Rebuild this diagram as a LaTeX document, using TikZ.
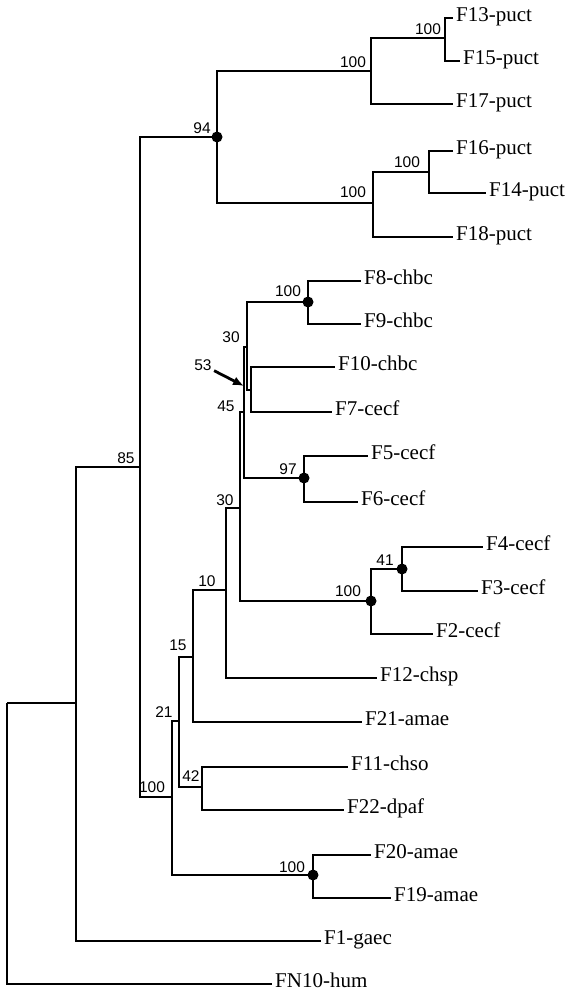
\documentclass[tikz,border=0pt]{standalone}
\usepackage{fontspec}
\setmainfont{Liberation Serif}
\newfontfamily\bsfont{Liberation Sans}
\usepackage{tikz}
\usetikzlibrary{arrows.meta}
\tikzset{
  br/.style={line width=1.5pt, draw=black},
  leaf/.style={anchor=west, inner xsep=3pt, inner ysep=0pt, text height=0.68em, text depth=0pt,
               font=\fontsize{21}{24}\selectfont},
  bs/.style={inner sep=0.5pt, font=\bsfont\fontsize{15.5}{17}\selectfont},
  dot/.style={fill=black},
  ptr/.style={-{Latex[length=11pt, width=9pt]}, line width=2.8pt, shorten <=2pt},
}

\begin{document}
\begin{tikzpicture}[x=1pt, y=-1pt]
  \useasboundingbox (0,0) rectangle (568,999);
  % inner nodes (x of the split, y where the branch comes in)
  \coordinate (nA) at (445,38);    \coordinate (nB) at (371,71);
  \coordinate (nC) at (429,172);   \coordinate (nD) at (373,203);
  \coordinate (n94) at (217,137);  \coordinate (n85) at (140,467);
  \coordinate (nG) at (76,703);    \coordinate (nR) at (7,703);
  \coordinate (n100b) at (308,302); \coordinate (n53) at (251,390);
  \coordinate (n30u) at (247,347); \coordinate (n45) at (244,412);
  \coordinate (n97) at (304,478);  \coordinate (n41) at (402,569);
  \coordinate (n100c) at (371,601); \coordinate (n30l) at (240,508);
  \coordinate (n10) at (226,590);  \coordinate (n15) at (193,657);
  \coordinate (n42) at (202,787);  \coordinate (n21) at (179,721);
  \coordinate (n100d) at (313,875); \coordinate (n100e) at (172,797);

  % leaves
  \node[leaf] (f13) at (453,18)  {F13-puct};
  \node[leaf] (f15) at (460,61)  {F15-puct};
  \node[leaf] (f17) at (453,104) {F17-puct};
  \node[leaf] (f16) at (453,151) {F16-puct};
  \node[leaf] (f14) at (486,193) {F14-puct};
  \node[leaf] (f18) at (453,237) {F18-puct};
  \node[leaf] (f8)  at (361,281) {F8-chbc};
  \node[leaf] (f9)  at (361,324) {F9-chbc};
  \node[leaf] (f10) at (335,367) {F10-chbc};
  \node[leaf] (f7)  at (332,412) {F7-cecf};
  \node[leaf] (f5)  at (368,456) {F5-cecf};
  \node[leaf] (f6)  at (358,502) {F6-cecf};
  \node[leaf] (f4)  at (483,547) {F4-cecf};
  \node[leaf] (f3)  at (478,591) {F3-cecf};
  \node[leaf] (f2)  at (433,634) {F2-cecf};
  \node[leaf] (f12) at (377,678) {F12-chsp};
  \node[leaf] (f21) at (362,722) {F21-amae};
  \node[leaf] (f11) at (348,767) {F11-chso};
  \node[leaf] (f22) at (344,810) {F22-dpaf};
  \node[leaf] (f20) at (371,855) {F20-amae};
  \node[leaf] (f19) at (391,898) {F19-amae};
  \node[leaf] (f1)  at (321,941) {F1-gaec};
  \node[leaf] (fn10) at (272,984) {FN10-hum};

  % branches
  \draw[br] (nA) |- (f13.west);  \draw[br] (nA) |- (f15.west);
  \draw[br] (nB) |- (nA);        \draw[br] (nB) |- (f17.west);
  \draw[br] (nC) |- (f16.west);  \draw[br] (nC) |- (f14.west);
  \draw[br] (nD) |- (nC);        \draw[br] (nD) |- (f18.west);
  \draw[br] (n94) |- (nB);       \draw[br] (n94) |- (nD);
  \draw[br] (n100b) |- (f8.west); \draw[br] (n100b) |- (f9.west);
  \draw[br] (n53) |- (f10.west); \draw[br] (n53) |- (f7.west);
  \draw[br] (n30u) |- (n100b);   \draw[br] (n30u) |- (n53);
  \draw[br] (n97) |- (f5.west);  \draw[br] (n97) |- (f6.west);
  \draw[br] (n45) |- (n30u);     \draw[br] (n45) |- (n97);
  \draw[br] (n41) |- (f4.west);  \draw[br] (n41) |- (f3.west);
  \draw[br] (n100c) |- (n41);    \draw[br] (n100c) |- (f2.west);
  \draw[br] (n30l) |- (n45);     \draw[br] (n30l) |- (n100c);
  \draw[br] (n10) |- (n30l);     \draw[br] (n10) |- (f12.west);
  \draw[br] (n15) |- (n10);      \draw[br] (n15) |- (f21.west);
  \draw[br] (n42) |- (f11.west); \draw[br] (n42) |- (f22.west);
  \draw[br] (n21) |- (n15);      \draw[br] (n21) |- (n42);
  \draw[br] (n100d) |- (f20.west); \draw[br] (n100d) |- (f19.west);
  \draw[br] (n100e) |- (n21);    \draw[br] (n100e) |- (n100d);
  \draw[br] (n85) |- (n94);      \draw[br] (n85) |- (n100e);
  \draw[br] (nG) |- (n85);       \draw[br] (nG) |- (f1.west);
  \draw[br] (nR) |- (nG);        \draw[br] (nR) |- (fn10.west);

  % full support dots
  \foreach \c in {n94, n100b, n97, n100c, n41, n100d}
    \fill[dot] (\c) circle[radius=5.5];

  % bootstrap values
  \node[bs] (lA) at (428,29) {100};
  \node[bs] (lB) at (353,62) {100};
  \node[bs] (l94) at (202,128) {94};
  \node[bs] (lC) at (407,162) {100};
  \node[bs] (lD) at (353,192) {100};
  \node[bs] (l100b) at (288,291) {100};
  \node[bs] (l30u) at (231,337) {30};
  \node[bs] (l53) at (203,365) {53};
  \node[bs] (l45) at (226,406) {45};
  \node[bs] (l97) at (288,469) {97};
  \node[bs] (l41) at (385,560) {41};
  \node[bs] (l100c) at (348,591) {100};
  \node[bs] (l30l) at (225,500) {30};
  \node[bs] (l10) at (207,581) {10};
  \node[bs] (l15) at (178,645) {15};
  \node[bs] (l21) at (164,712) {21};
  \node[bs] (l42) at (191,776) {42};
  \node[bs] (l100e) at (152,787) {100};
  \node[bs] (l85) at (126,458) {85};
  \node[bs] (l100d) at (292,867) {100};

  \coordinate (a53) at (244,386);
  \draw[ptr] (l53) -- (a53);
\end{tikzpicture}
\end{document}
